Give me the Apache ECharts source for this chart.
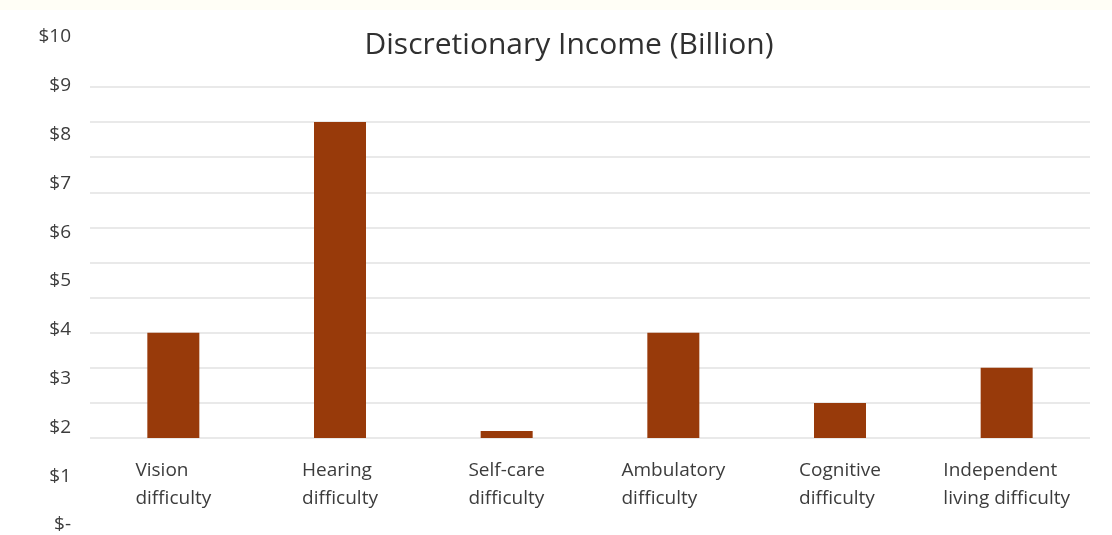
<!DOCTYPE html>
<html>
<head>
<meta charset="utf-8">
<script src="https://cdn.jsdelivr.net/npm/echarts@6/dist/echarts.min.js"></script>
<style>
  html, body { margin: 0; padding: 0; background: #ffffff; }
  #band { position: absolute; left: 0; top: 0; width: 1112px; height: 10px; background: #fffef6; }
  #chart { width: 1112px; height: 535px; }
</style>
</head>
<body>
<div id="band"></div>
<div id="chart"></div>
<script>
// Categories of disability and their bar heights
const categories = [
  'Vision\ndifficulty',
  'Hearing\ndifficulty',
  'Self-care\ndifficulty',
  'Ambulatory\ndifficulty',
  'Cognitive\ndifficulty',
  'Independent\nliving difficulty'
];
const incomeValues = [3, 9, 0.2, 3, 1, 2];
// Dollar tick labels shown along the left side
const tickLabels = ['$-', '$1', '$2', '$3', '$4', '$5', '$6', '$7', '$8', '$9', '$10'];

const FONT = '"Open Sans", Lato, sans-serif';
const TEXT = '#3c3c3c';

const chart = echarts.init(document.getElementById('chart'), null, { renderer: 'canvas' });
chart.setOption({
  backgroundColor: 'transparent',
  animation: false,
  title: {
    text: 'Discretionary Income (Billion)',
    left: 564,
    textAlign: 'center',
    top: 25,
    textStyle: { fontFamily: FONT, fontSize: 30, fontWeight: 'normal', color: '#303030' }
  },
  grid: [
    { left: 90, right: 22, top: 87, bottom: 97 },
    { left: 90, right: 22, top: 37, bottom: 10 }
  ],
  xAxis: [
    {
      type: 'category',
      gridIndex: 0,
      data: categories,
      axisLine: { show: false },
      axisTick: { show: false },
      axisLabel: {
        margin: 19,
        interval: 0,
        align: 'center',
        // each wrapped line starts at the left edge of the label block
        formatter: v => v.split('\n').map(s => '{l|' + s + '}').join('\n'),
        rich: {
          l: {
            align: 'left',
            fontFamily: FONT,
            fontSize: 19,
            lineHeight: 28,
            color: TEXT
          }
        }
      }
    },
    { type: 'category', gridIndex: 1, show: false, data: [] }
  ],
  yAxis: [
    {
      type: 'value',
      gridIndex: 0,
      min: 0,
      max: 10,
      interval: 1,
      axisLabel: { show: false },
      axisLine: { show: false },
      axisTick: { show: false },
      splitLine: { lineStyle: { color: '#e2e2e2', width: 1.5 } }
    },
    {
      type: 'value',
      gridIndex: 1,
      min: 0,
      max: 10,
      interval: 1,
      axisLine: { show: false },
      axisTick: { show: false },
      splitLine: { show: false },
      axisLabel: {
        margin: 19,
        fontFamily: FONT,
        fontSize: 19,
        color: TEXT,
        formatter: v => tickLabels[Math.round(v)]
      }
    }
  ],
  series: [
    {
      type: 'bar',
      xAxisIndex: 0,
      yAxisIndex: 0,
      data: incomeValues,
      barWidth: 52,
      itemStyle: { color: '#983a0a' }
    }
  ]
});
</script>
</body>
</html>
